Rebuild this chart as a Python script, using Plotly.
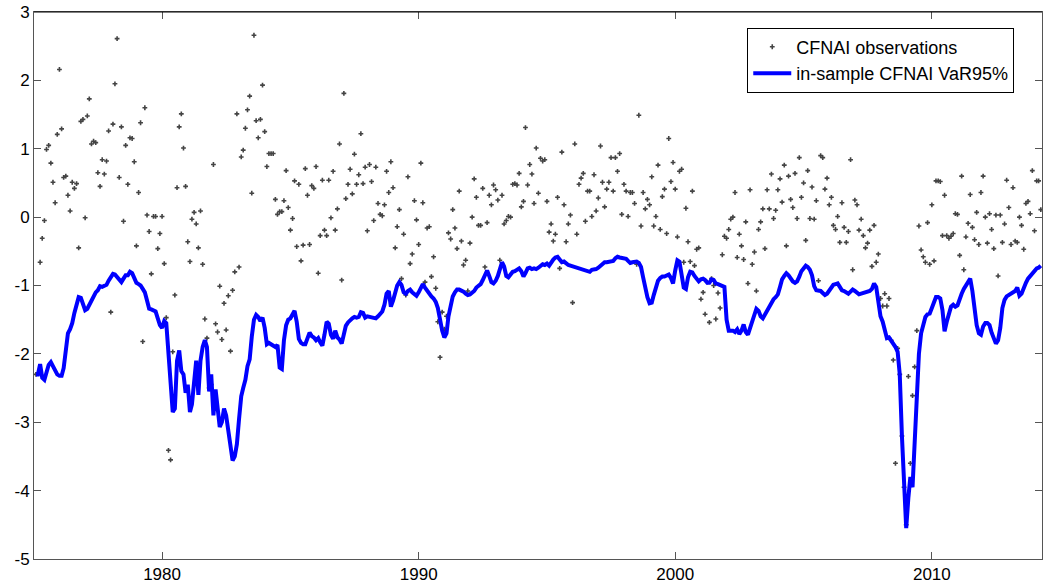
import pandas as pd
import plotly.graph_objects as go

# Monthly sample, Feb 1975 - Apr 2014
months = pd.date_range("1975-02-01", periods=471, freq="MS")

# CFNAI monthly observations, split by period
obs_1975_1981 = [
    -2.30, -2.28,
    -0.66, -0.31, -0.05, 0.99, 1.05, 0.79, 0.51, 0.21, 1.21, 2.16,
    1.29, 0.58, 0.60, 0.32, 0.09, 0.51, 0.42, 0.49, -0.45, 1.40,
    1.43, -0.01, 1.48, 1.73, 1.07, 1.11, 1.09, 0.65, 0.45, 0.84,
    0.63, 0.82, 1.26, -1.39, 1.36, 1.95, 2.61, 0.58, 1.32, -0.06,
    1.05, 0.48, 1.16, 1.15, 0.81, -0.42, 0.36, 1.38, -1.82, 1.60,
    0.03, -0.21, -0.83, 0.01, 0.01, -0.46, -0.24, 0.01, -0.68, -1.47,
    -3.41, -3.55, -1.97, -1.14, 0.43, 1.32, 1.51, 1.01, 0.45, -0.36,
    -0.65, -0.03, 0.07, -0.10, -0.45, 0.09, -0.69, -1.49,
]
obs_1981_1988 = [
    -1.77, -2.50, -2.45, 0.77, -1.56, -1.68, -1.01, -1.79, -1.26, -1.65,
    -1.15, -1.96, -1.07, -0.80, 1.51, -0.73, 0.88, 0.98, 1.30, 1.57,
    1.77, 0.35, 2.66, 1.41, 1.16, 1.43, 1.93, 1.25, 0.74, 0.93,
    0.93, 0.93, 0.26, 0.04, 0.08, 0.08, 0.24, 0.68, 0.14, -0.19,
    -0.02, 0.53, -0.43, 0.48, -0.64, -0.41, 0.71, 0.32, -0.40, 0.46,
    0.42, 0.74, -0.82, -0.27, 0.54, -0.19, -0.27, 0.54, -0.01, 0.67,
    -0.19, 0.12, 1.07, -0.92, 1.81, 0.27, 0.48, 0.70, 0.34, 0.92,
    0.48, 0.62, 1.22, 0.49, 0.73, -0.20, 0.77, 0.52, -0.05,
]
obs_1988_1994 = [
    0.73, 0.20, 0.04, 0.02, 0.18, 0.67, 0.36, 0.81, 0.43, -0.45,
    -0.14, 0.11, -0.90, -0.25, -1.14, 0.59, -0.68, -0.54, 0.24, -0.04,
    -0.40, 0.79, 0.21, -0.95, -0.16, -0.14, -0.87, -0.58, -1.04, -1.53,
    -2.05, -1.39, -1.64, -1.45, -0.23, -0.32, 0.11, -0.16, -0.46, 0.38,
    -0.35, -0.70, -0.63, -1.08, -0.38, 0.00, 0.56, 0.29, -0.12, -0.12,
    0.42, -0.73, -0.08, 0.32, 0.18, 0.47, 0.40, 0.25, -0.63, 0.32,
    -0.10, -0.05, 0.01, 0.00, 0.48, 0.49, 0.47, 0.64, 0.15, 0.23,
    1.31, 0.47, 0.77, 0.63, 0.20, 1.01, 0.35, 0.86, 0.82, 0.84,
]
obs_1995_2000 = [
    0.23, -0.22, -0.10, -0.35, -0.25, 0.29, -0.75, 0.95, 0.18, -0.36,
    -0.10, 0.03, -1.25, 1.07, -0.25, 0.48, 0.57, 0.64, -0.06, 0.38,
    0.38, 0.01, 0.62, 0.09, 0.28, 1.04, 0.51, 0.15, 0.41, 0.51,
    0.87, 0.38, 0.87, 0.67, 0.93, 0.04, 0.48, 0.38, 0.01, 0.36,
    0.36, 0.20, -0.69, 1.49, -0.13, 0.36, 0.12, 0.26, 0.18, 0.59,
    -0.13, 0.01, 0.76, -0.18, 0.30, 0.41, -0.24, 1.15, 0.52, 0.80,
    0.41, -0.29, 0.67, 0.70, -0.66, 0.13, -0.36, -0.65, 0.38, -0.71,
    -0.47, -0.45,
]
obs_2001_2007 = [
    -1.20, -1.10, -1.42, -0.95, -1.54, -0.90, -1.00, -1.49, -1.11, -1.33,
    -0.55, -0.28, -0.31, -0.18, -0.03, 0.00, 0.36, -0.59, -0.25, -0.42,
    -0.62, -0.07, -0.97, 0.40, -0.69, -0.51, -1.08, -0.18, -0.07, 0.12,
    -0.46, 0.40, 0.12, 0.63, -0.02, 0.10, 0.40, 0.56, 0.22, 0.76,
    -0.42, 0.60, 0.26, 0.14, 0.64, -0.02, 0.87, 0.29, 0.50, -0.34,
    0.68, -0.02, 0.44, -0.03, 0.24, -0.93, 0.90, 0.87, 0.41, 0.57,
    0.18, 0.29, -0.12, -0.18, 0.01, -0.37, 0.21, -0.15, -0.37, -0.21,
    0.84, -0.77, 0.25, 0.18, -0.19, -0.03, -0.27, -0.45, -0.38, -0.19,
    -0.72, -0.12, -0.66, -0.54,
]
obs_2008_2014 = [
    -1.19, -1.30, -1.12, -1.30, -1.19, -1.80, -2.09, -3.60, -1.92, -2.30,
    -3.20, -3.95, -4.50, -2.33, -3.60, -2.61, -2.19, -1.66,
    -0.13, -0.48, -0.58, -0.66, -0.08, -0.69, 0.18, -0.64, 0.53, 0.53,
    0.52, -0.27, 0.32, -0.27, -0.31, -0.28, -0.24, 0.05, 0.04, -0.56,
    0.60, -0.77, -0.29, -0.09, 0.33, -0.15, -0.33, 0.07, -0.40, 0.36,
    0.60, 0.00, -0.38, 0.05, -0.18, -0.46, 0.03, -0.86, 0.03, -0.37,
    -0.10, 0.54, 0.14, -0.40, 0.43, -0.35, -0.37, 0.00, -0.12, -0.47,
    0.20, 0.23, 0.05, 0.68, -0.20, 0.53, 0.53, 0.11,
]
cfnai_obs = (obs_1975_1981 + obs_1981_1988 + obs_1988_1994
             + obs_1995_2000 + obs_2001_2007 + obs_2008_2014)

# In-sample 95% value-at-risk of the index
var95 = [
    -2.30, -2.30, -2.15, -2.35, -2.38, -2.25, -2.16, -2.12, -2.18, -2.24,
    -2.30, -2.32, -2.32, -2.21, -2.00, -1.70, -1.64, -1.55, -1.40, -1.25,
    -1.17, -1.18, -1.28, -1.36, -1.34, -1.28, -1.22, -1.14, -1.10, -1.07,
    -1.01, -1.02, -1.00, -0.99, -0.93, -0.88, -0.83, -0.84, -0.88, -0.91,
    -0.95, -0.90, -0.85, -0.85, -0.80, -0.82, -0.88, -0.96, -0.98, -1.00,
    -1.05, -1.10, -1.22, -1.34, -1.35, -1.36, -1.38, -1.48, -1.58, -1.62,
    -1.52, -1.55, -2.02, -2.50, -2.85, -2.80, -2.10, -1.95, -2.25, -2.30,
    -2.57, -2.45, -2.85, -2.74, -2.40, -2.10, -2.60, -2.10, -1.90, -1.80,
    -1.90, -2.55, -2.30, -2.90, -2.52, -2.80, -3.07, -3.00, -2.80, -2.90,
    -3.15, -3.42, -3.56, -3.50, -3.32, -2.95, -2.62, -2.50, -2.38, -2.18,
    -2.08, -1.75, -1.50, -1.43, -1.46, -1.52, -1.47, -1.62, -1.86, -1.84,
    -1.86, -1.87, -1.90, -1.87, -2.20, -2.22, -1.80, -1.58, -1.50, -1.48,
    -1.43, -1.37, -1.53, -1.78, -1.84, -1.86, -1.86, -1.77, -1.69, -1.74,
    -1.76, -1.80, -1.77, -1.83, -1.88, -1.72, -1.53, -1.56, -1.72, -1.78,
    -1.66, -1.76, -1.79, -1.85, -1.73, -1.59, -1.54, -1.50, -1.48, -1.46,
    -1.47, -1.46, -1.39, -1.40, -1.47, -1.45, -1.46, -1.47, -1.47, -1.48,
    -1.45, -1.42, -1.38, -1.28, -1.12, -1.08, -1.31, -1.22, -1.12, -1.00,
    -0.95, -0.99, -1.10, -1.12, -1.08, -1.06, -1.10, -1.13, -1.15, -1.10,
    -1.02, -0.98, -1.03, -1.08, -1.13, -1.16, -1.19, -1.24, -1.33, -1.53,
    -1.66, -1.76, -1.70, -1.45, -1.26, -1.16, -1.10, -1.06, -1.06, -1.07,
    -1.09, -1.12, -1.14, -1.13, -1.11, -1.08, -1.03, -1.00, -0.98, -0.92,
    -0.84, -0.78, -0.86, -0.95, -0.97, -0.93, -0.86, -0.74, -0.66, -0.72,
    -0.86, -0.88, -0.83, -0.80, -0.79, -0.77, -0.75, -0.79, -0.87, -0.82,
    -0.75, -0.74, -0.76, -0.75, -0.76, -0.74, -0.71, -0.69, -0.70, -0.68,
    -0.71, -0.66, -0.62, -0.59, -0.58, -0.62, -0.66, -0.65, -0.68, -0.70,
    -0.71, -0.72, -0.74, -0.75, -0.76, -0.77, -0.78, -0.79, -0.80, -0.80,
    -0.77, -0.77, -0.76, -0.74, -0.71, -0.68, -0.66, -0.66, -0.65, -0.65,
    -0.64, -0.60, -0.58, -0.59, -0.60, -0.60, -0.61, -0.64, -0.67, -0.66,
    -0.65, -0.65, -0.67, -0.73, -0.88, -1.04, -1.17, -1.26, -1.25, -1.14,
    -1.01, -0.93, -0.89, -0.87, -0.87, -0.86, -0.84, -0.89, -0.97, -0.78,
    -0.63, -0.65, -0.88, -1.03, -1.05, -0.88, -0.80, -0.81, -0.86, -0.91,
    -0.94, -0.91, -0.90, -0.92, -0.96, -0.96, -0.91, -0.92, -0.97, -0.98,
    -0.99, -1.00, -1.02, -1.50, -1.66, -1.66, -1.66, -1.68, -1.64, -1.71,
    -1.66, -1.57, -1.68, -1.72, -1.62, -1.51, -1.42, -1.34, -1.37, -1.45,
    -1.48, -1.42, -1.36, -1.30, -1.24, -1.20, -1.17, -1.13, -1.02, -0.91,
    -0.86, -0.82, -0.85, -0.90, -0.94, -0.96, -0.94, -0.87, -0.79, -0.75,
    -0.71, -0.73, -0.77, -0.85, -1.01, -1.07, -1.08, -1.08, -1.11, -1.14,
    -1.12, -1.08, -1.04, -0.99, -0.98, -0.97, -1.02, -1.07, -1.08, -1.10,
    -1.12, -1.09, -1.06, -1.08, -1.11, -1.13, -1.12, -1.11, -1.10, -1.10,
    -1.08, -1.05, -0.97, -1.02, -1.25, -1.45, -1.53, -1.65, -1.77, -1.76,
    -1.80, -1.86, -1.90, -1.97, -2.30, -3.20, -3.95, -4.55, -4.10, -3.80,
    -3.95, -3.30, -2.40, -2.00, -1.70, -1.55, -1.46, -1.42, -1.41, -1.33,
    -1.25, -1.17, -1.17, -1.19, -1.36, -1.67, -1.53, -1.41, -1.31, -1.28,
    -1.31, -1.29, -1.18, -1.12, -1.05, -0.99, -0.94, -0.90, -1.08, -1.35,
    -1.58, -1.70, -1.72, -1.60, -1.55, -1.55, -1.58, -1.69, -1.77, -1.85,
    -1.80, -1.62, -1.33, -1.21, -1.16, -1.14, -1.12, -1.10, -1.08, -1.03,
    -1.15, -1.12, -1.02, -0.96, -0.90, -0.86, -0.84, -0.78, -0.75, -0.74,
    -0.71,
]

x_ticks = ["1980-01-01", "1990-01-01", "2000-01-01", "2010-01-01"]
x_labels = ["1980", "1990", "2000", "2010"]
y_ticks = [-5, -4, -3, -2, -1, 0, 1, 2, 3]
y_labels = ["-5", "-4", "-3", "-2", "-1", "0", "1", "2", "3"]

fig = go.Figure()
fig.add_trace(go.Scatter(
    x=months, y=cfnai_obs, mode="markers", name="CFNAI observations",
    marker=dict(symbol="cross", size=4, color="#444444", line=dict(width=0)),
))
fig.add_trace(go.Scatter(
    x=months, y=var95, mode="lines", name="in-sample CFNAI VaR95%",
    line=dict(color="#0000ff", width=4),
))

axis_common = dict(
    showline=True, linecolor="#555555", linewidth=1, mirror="ticks",
    ticks="inside", ticklen=7, tickcolor="#555555", tickwidth=1,
    showgrid=False, zeroline=False,
    tickfont=dict(family="Liberation Sans, Arial, sans-serif", size=17, color="black"),
)
fig.update_xaxes(type="date", range=["1975-01-04", "2014-04-18"],
                 tickmode="array", tickvals=x_ticks, ticktext=x_labels, **axis_common)
fig.update_yaxes(range=[-5, 3], tickmode="array", tickvals=y_ticks,
                 ticktext=y_labels, **axis_common)

fig.update_layout(
    width=1043, height=587,
    margin=dict(l=34, r=1, t=12, b=28),
    paper_bgcolor="white", plot_bgcolor="white",
    font=dict(family="Liberation Sans, Arial, sans-serif", size=17, color="black"),
    showlegend=True,
    legend=dict(
        x=0.7076, y=0.9122, xanchor="left", yanchor="middle",
        bgcolor="white", bordercolor="black", borderwidth=1,
        font=dict(size=18), tracegroupgap=0, itemwidth=38,
    ),
    shapes=[dict(type="line", xref="paper", yref="paper", x0=0, x1=1, y0=1, y1=1,
                 line=dict(color="black", width=1))],
)

fig.write_html("out.html")
